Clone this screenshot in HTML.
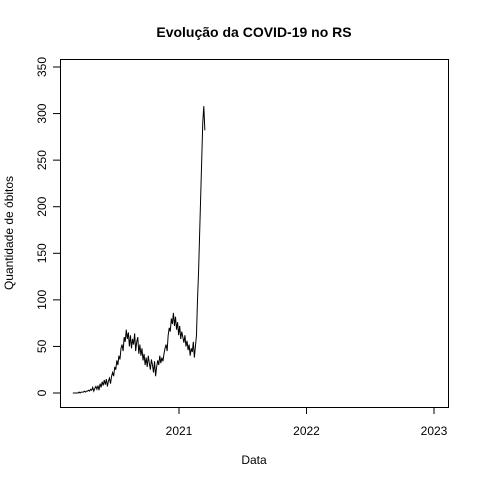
<!DOCTYPE html>
<html><head><meta charset="utf-8"><style>body{margin:0;background:#fff}svg{display:block;font-family:"Liberation Sans",sans-serif}</style></head>
<body>
<svg id="c" width="480" height="480"></svg>
<script>
const startDay = -304; // days relative to 2021-01-01
const stepDays = 3;
const deaths = [0,0,0,0,0,0,1,0,1,1,1,2,1,2,2,3,2,
4,3,6,2,5,7,4,8,3,
10,6,12,8,14,9,15,7,13,16,10,18,
22,18,28,25,35,30,40,36,48,
52,45,60,55,68,58,
65,50,62,48,58,52,64,45,55,60,42,52,
40,48,35,42,30,
38,28,40,32,25,36,30,22,34,18,28,
35,30,40,32,38,34,42,48,
52,45,62,70,66,80,74,86,72,
82,68,76,62,72,58,66,60,54,62,
50,56,46,52,40,48,44,55,38,50,62,
100,130,170,210,250,290,308,282];
const yTicks = [0,50,100,150,200,250,300,350];
const xTickLabels = ["2021","2022","2023"];
const xTickDays = [0,365,730];

const NS="http://www.w3.org/2000/svg";
const svg=document.getElementById('c');
const X=d=>179+d*127.5/365;
const Y=v=>393-v*(326/350);
function mk(t,a,p){const e=document.createElementNS(NS,t);for(const k in a)e.setAttribute(k,a[k]);(p||svg).appendChild(e);return e;}

const box=mk('rect',{x:60.5,y:59.5,width:388,height:348,fill:'none',stroke:'#000'});



const title=mk('text',{x:254,y:37,'text-anchor':'middle','font-size':14,'font-weight':'bold'});
title.textContent='Evolução da COVID-19 no RS';



const yAxis=mk('g',{});


mk('line',{x1:60.5,x2:60.5,y1:Y(0),y2:Y(350),stroke:'#000'},yAxis);
yTicks.forEach(v=>{
  const y=Y(v);
  mk('line',{x1:53,x2:60.5,y1:y,y2:y,stroke:'#000'},yAxis);
  const t=mk('text',{x:0,y:0,transform:`translate(46,${y}) rotate(-90)`,'text-anchor':'middle','font-size':12},yAxis);
  t.textContent=v;
  
  
});
const yt=mk('text',{x:0,y:0,transform:'translate(13,233) rotate(-90)','text-anchor':'middle','font-size':12});
yt.textContent='Quantidade de óbitos';



const xAxis=mk('g',{});


mk('line',{x1:X(xTickDays[0]),x2:X(xTickDays[xTickDays.length-1]),y1:407.5,y2:407.5,stroke:'#000'},xAxis);
xTickDays.forEach((d,i)=>{
  const x=X(d);
  mk('line',{x1:x,x2:x,y1:407.5,y2:414,stroke:'#000'},xAxis);
  const t=mk('text',{x:x,y:435,'text-anchor':'middle','font-size':12},xAxis);
  t.textContent=xTickLabels[i];
  
  
});
const xt=mk('text',{x:254,y:464,'text-anchor':'middle','font-size':12});
xt.textContent='Data';



const pts=deaths.map((v,i)=>X(startDay+i*stepDays).toFixed(2)+','+Y(v).toFixed(2)).join(' ');
const line=mk('polyline',{points:pts,fill:'none',stroke:'#000','stroke-width':1});


</script>
</body></html>
